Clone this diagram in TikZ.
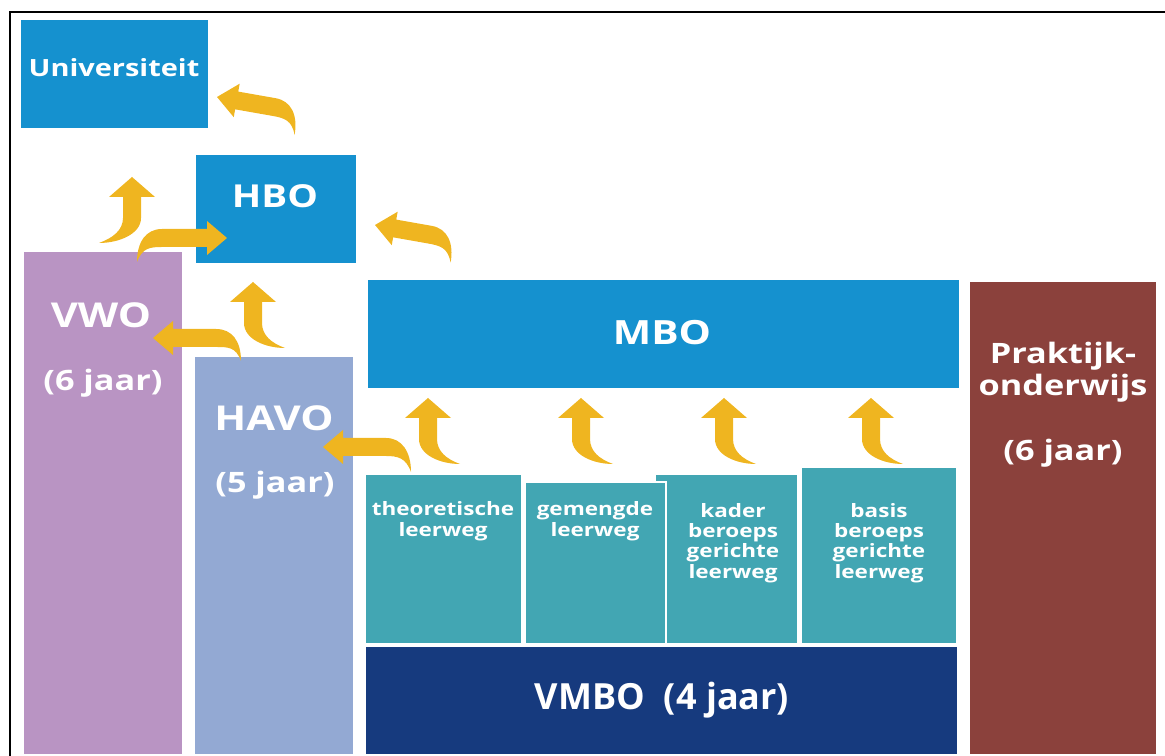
\documentclass[tikz,border=0pt]{standalone}
\usepackage{fontspec}
\setmainfont{Open Sans}[FakeStretch=1.22]
\newfontfamily\vmbofont{Open Sans}
\definecolor{hoogblauw}{RGB}{21,145,207}
\definecolor{vwopaars}{RGB}{185,148,195}
\definecolor{havoblauw}{RGB}{147,169,211}
\definecolor{leerwegblauw}{RGB}{66,166,179}
\definecolor{vmboblauw}{RGB}{22,58,126}
\definecolor{praktijkrood}{RGB}{139,65,60}
\definecolor{pijlgeel}{RGB}{239,181,32}
\tikzset{
  pics/curl/.style n args={3}{code={
    \fill[pijlgeel] (0,0) -- (-#2,-20) -- (-9,-20) -- (-9,-20-#1)
      .. controls (-9,-36-#1) and (#3-20,-45-#1) .. (#3,-45-#1)
      .. controls (#3-14,-40-#1) and (9,-32-#1) .. (9,-20-#1)
      -- (9,-20) -- (#2,-20) -- cycle;
  }}
}
\begin{document}
\begin{tikzpicture}[x=0.02cm,y=0.02cm,
    block/.style={draw=white,line width=1pt,anchor=south west,inner sep=0pt},
    lbl/.style={text=white,align=center,inner sep=0pt}
  ]
  \useasboundingbox (0,0) rectangle (1165,756);
  \draw[line width=1.5pt] (10,0) -- (10,744) -- (1165,744);
  % vervolgonderwijs
  \node[block,fill=hoogblauw,minimum width=3.78cm,minimum height=2.2cm] (uni) at (19,626) {};
  \node[block,fill=hoogblauw,minimum width=3.24cm,minimum height=2.2cm] (hbo) at (194,491) {};
  \node[block,fill=hoogblauw,minimum width=11.86cm,minimum height=2.2cm] (mbo) at (366,366) {};
  % voortgezet onderwijs
  \node[block,fill=vwopaars,minimum width=3.2cm,minimum height=10.08cm] (vwo) at (22,0) {};
  \node[block,fill=havoblauw,minimum width=3.2cm,minimum height=7.98cm] (havo) at (193,0) {};
  \node[block,fill=praktijkrood,minimum width=3.76cm,minimum height=9.48cm] (prak) at (968,0) {};
  \node[block,fill=leerwegblauw,minimum width=2.86cm,minimum height=3.4cm] (kader) at (654,111) {};
  \node[block,fill=leerwegblauw,minimum width=3.14cm,minimum height=3.4cm] (theo) at (364,111) {};
  \node[block,fill=leerwegblauw,minimum width=2.82cm,minimum height=3.24cm] (gem) at (524,111) {};
  \node[block,fill=leerwegblauw,minimum width=3.12cm,minimum height=3.54cm] (basis) at (800,111) {};
  \node[block,fill=vmboblauw,minimum width=11.86cm,minimum height=2.18cm] (vmbo) at (364,0) {};
  % teksten
  \node[lbl,font=\bfseries\fontsize{13.5}{16}\selectfont] (uni-t) at (114,688) {Universiteit};
  \node[lbl,font=\bfseries\fontsize{18}{20}\selectfont] (hbo-t) at (275,560) {HBO};
  \node[lbl,font=\bfseries\fontsize{19}{21}\selectfont] (mbo-t) at (662,423) {MBO};
  \node[lbl,font=\bfseries\fontsize{19.5}{21}\selectfont] (vwo-t) at (101,441) {VWO};
  \node[lbl,font=\bfseries\fontsize{16}{18}\selectfont] (vwo-j) at (103,373) {(6 jaar)};
  \node[lbl,font=\bfseries\fontsize{19.5}{21}\selectfont] (havo-t) at (274,338) {HAVO};
  \node[lbl,font=\bfseries\fontsize{16}{18}\selectfont] (havo-j) at (275,271) {(5 jaar)};
  \node[lbl,font=\bfseries\fontsize{16}{18}\selectfont] (prak-t) at (1063,384) {Praktijk-\\onderwijs};
  \node[lbl,font=\bfseries\fontsize{16}{18}\selectfont] (prak-j) at (1063,303) {(6 jaar)};
  \node[lbl,font=\bfseries\fontsize{10.5}{12}\selectfont] (theo-t) at (443,235) {theoretische\\leerweg};
  \node[lbl,font=\bfseries\fontsize{10.5}{12}\selectfont] (gem-t) at (595,235) {gemengde\\leerweg};
  \node[lbl,font=\bfseries\fontsize{10.5}{11.5}\selectfont] (kader-t) at (733,213) {kader\\beroeps\\gerichte\\leerweg};
  \node[lbl,font=\bfseries\fontsize{10.5}{11.5}\selectfont] (basis-t) at (879,213) {basis\\beroeps\\gerichte\\leerweg};
  \node[lbl,font=\vmbofont\bfseries\fontsize{20.5}{22}\selectfont] (vmbo-t) at (662,56) {VMBO\ \ (4 jaar)};
  % pijlen
  \pic[rotate=80,xscale=-1] at (217,659) {curl={38}{17}{24}};
  \pic[rotate=80,xscale=-1] at (375,531) {curl={36}{17}{24}};
  \pic[rotate=-90] at (227,518) {curl={45}{17}{24}};
  \pic[xscale=-1] at (132,579) {curl={21}{23}{33}};
  \pic[rotate=90,xscale=-1] at (153,418) {curl={43}{17}{23}};
  \pic at (253,474) {curl={21}{23}{32}};
  \pic[rotate=90,xscale=-1] at (323,309) {curl={43}{17}{25}};
  \foreach \x in {428,581,724,871}
    \pic at (\x,358) {curl={21}{23}{32}};
\end{tikzpicture}
\end{document}
